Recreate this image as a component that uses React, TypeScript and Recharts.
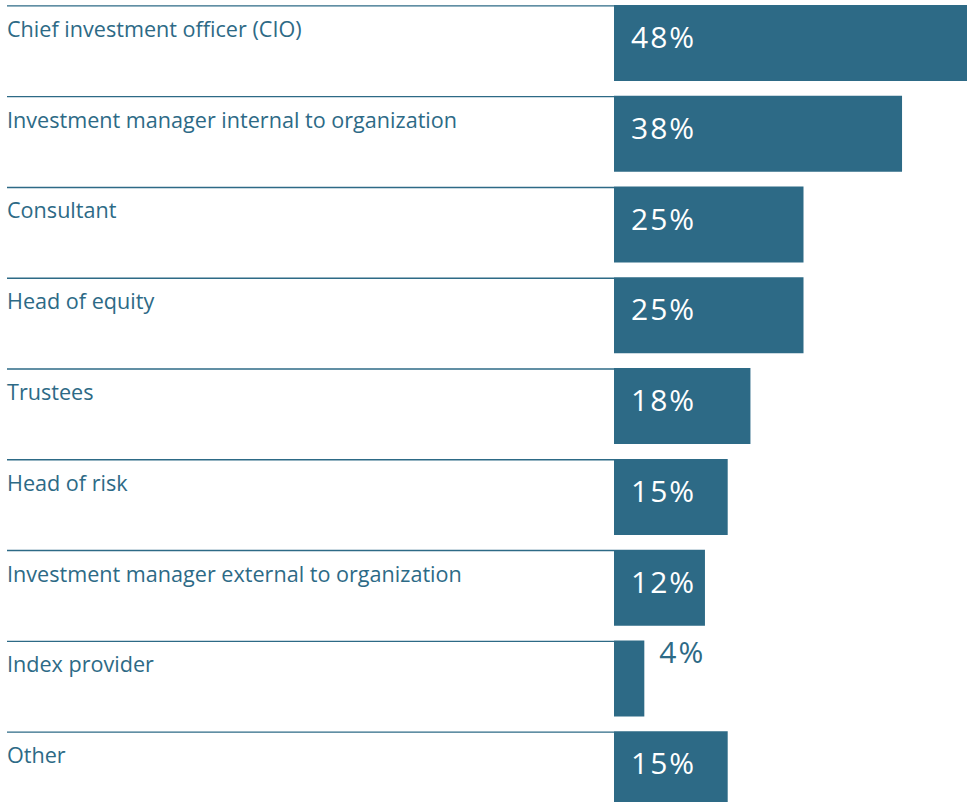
import React from 'react'
import { BarChart, Bar, XAxis, YAxis, LabelList } from 'recharts'

const categories = [
  'Chief investment officer (CIO)',
  'Investment manager internal to organization',
  'Consultant',
  'Head of equity',
  'Trustees',
  'Head of risk',
  'Investment manager external to organization',
  'Index provider',
  'Other',
]
const shares = [48, 38, 25, 25, 18, 15, 12, 4, 15]

const TEAL = '#2d6a86'

const data = categories.map((name, i) => ({ name, value: shares[i] }))

const CategoryTick = (props: any) => {
  const { x, y, payload } = props
  const top = y - 38
  return (
    <g>
      <line x1={7} x2={x} y1={top + 0.5} y2={top + 0.5} stroke={TEAL} strokeWidth={1.4} />
      <text x={7} y={top + 31.5} fill={TEAL} fontSize={21.6} fontFamily="'Open Sans', sans-serif">
        {payload.value}
      </text>
    </g>
  )
}

const ValueLabel = (props: any) => {
  const { x, y, width, value } = props
  const inside = width > 60
  return (
    <text
      x={inside ? x + 17 : x + width + 15}
      y={inside ? y + 43 : y + 23}
      fill={inside ? '#ffffff' : TEAL}
      fontSize={30}
      letterSpacing={2}
      fontFamily="'Open Sans', sans-serif"
    >
      {value}%
    </text>
  )
}

const App: React.FC = () => {
  return (
    <div style={{ position: 'absolute', left: 0, top: 0, width: 967, height: 802, overflow: 'hidden', background: '#fff' }}>
      <div style={{ position: 'absolute', left: 0, top: -2 }}>
        <BarChart
          width={1000}
          height={817}
          data={data}
          layout='vertical'
          margin={{ top: 0, right: 7, left: 0, bottom: 0 }}
        >
          <XAxis type='number' domain={[0, 50]} hide />
          <YAxis
            type='category'
            dataKey='name'
            width={614}
            axisLine={false}
            tickLine={false}
            tickSize={0}
            tickMargin={0}
            tick={<CategoryTick />}
            interval={0}
          />
          <Bar dataKey='value' fill={TEAL} barSize={76} isAnimationActive={false}>
            <LabelList dataKey='value' content={<ValueLabel />} />
          </Bar>
        </BarChart>
      </div>
    </div>
  )
}

export default App
